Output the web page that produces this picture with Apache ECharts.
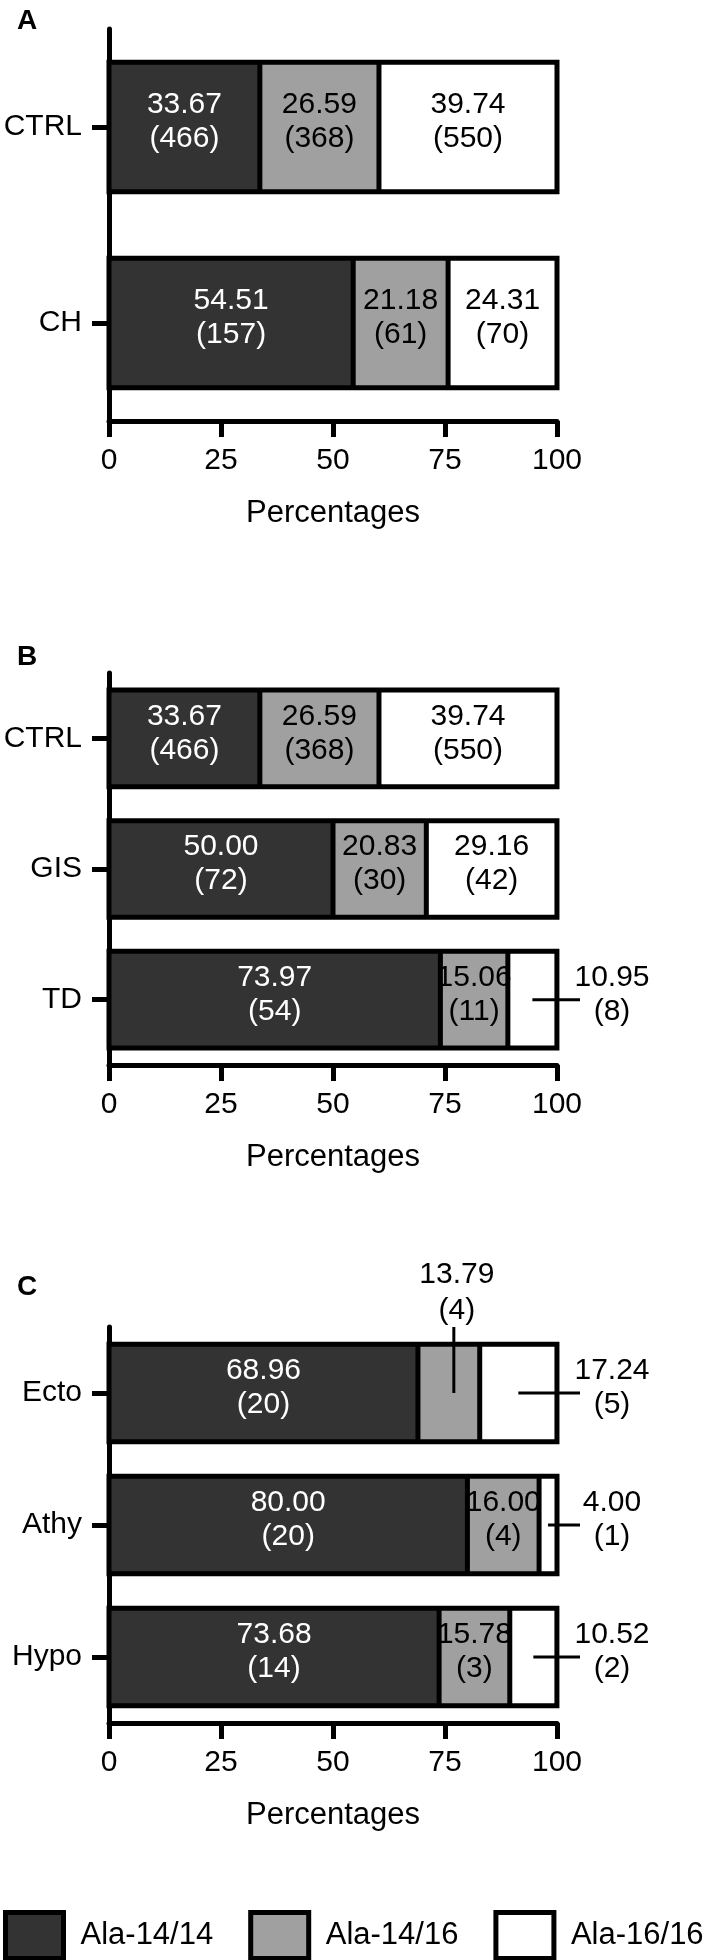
<!DOCTYPE html>
<html style="height: 100%">
<head>
    <meta charset="utf-8">
</head>
<body style="height: 100%; margin: 0; background: #fff">
<div id="container" style="width: 709px; height: 1960px"></div>
<script type="text/javascript" src="https://cdn.jsdelivr.net/npm/echarts@6/dist/echarts.min.js"></script>
<script type="text/javascript">
  // genotype classes
  const names = ['Ala-14/14', 'Ala-14/16', 'Ala-16/16'];
  const xTicks = [0, 25, 50, 75, 100];

  // A
  const catsA = ['CTRL', 'CH'];
  const pctA = [[33.67, 26.59, 39.74], [54.51, 21.18, 24.31]];
  const cntA = [[466, 368, 550], [157, 61, 70]];
  // B
  const catsB = ['CTRL', 'GIS', 'TD'];
  const pctB = [[33.67, 26.59, 39.74], [50.00, 20.83, 29.16], [73.97, 15.06, 10.95]];
  const cntB = [[466, 368, 550], [72, 30, 42], [54, 11, 8]];
  // C
  const catsC = ['Ecto', 'Athy', 'Hypo'];
  const pctC = [[68.96, 13.79, 17.24], [80.00, 16.00, 4.00], [73.68, 15.78, 10.52]];
  const cntC = [[20, 4, 5], [20, 4, 1], [14, 3, 2]];

  const fills = ['#333333', '#a0a0a0', '#ffffff'];
  const inkColors = ['#ffffff', '#000000', '#000000'];
  const font = 'Liberation Sans';

  const panels = [
    {letter: 'A', cats: catsA, pct: pctA, cnt: cntA, top: 29, height: 392, bar: 0.66, right: [], above: []},
    {letter: 'B', cats: catsB, pct: pctB, cnt: cntB, top: 673, height: 392, bar: 0.74, right: ['TD'], above: []},
    {letter: 'C', cats: catsC, pct: pctC, cnt: cntC, top: 1327, height: 396, bar: 0.74, right: ['Ecto', 'Athy', 'Hypo'], above: ['Ecto']}
  ];
  const letterTop = [2, 638, 1268];

  function lbl(v, n) {
    return v.toFixed(2) + '\n(' + n + ')';
  }

  var dom = document.getElementById("container");
  var myChart = echarts.init(dom);
  var option;

  const grid = [], xAxis = [], yAxis = [], series = [], title = [];

  panels.forEach(function (p, gi) {
    title.push({
      text: p.letter, left: 12, top: letterTop[gi],
      textStyle: {fontSize: 28, fontWeight: 'bold', color: '#000', fontFamily: font}
    });
    grid.push({left: 109, right: 152, top: p.top, height: p.height});
    xAxis.push({
      type: 'value', gridIndex: gi, min: xTicks[0], max: xTicks[xTicks.length - 1], interval: 25,
      name: 'Percentages', nameLocation: 'middle', nameGap: 77,
      nameTextStyle: {fontSize: 31, color: '#000', fontFamily: font},
      axisLine: {show: true, lineStyle: {color: '#000', width: 5, cap: 'round'}},
      axisTick: {show: true, length: 16, lineStyle: {color: '#000', width: 5}},
      axisLabel: {fontSize: 30, color: '#000', margin: 25, fontFamily: font},
      splitLine: {show: false}
    });
    yAxis.push({
      type: 'category', gridIndex: gi, inverse: true, data: p.cats,
      axisLine: {show: true, lineStyle: {color: '#000', width: 5}},
      axisTick: {show: true, alignWithLabel: true, length: 17, lineStyle: {color: '#000', width: 5}},
      axisLabel: {fontSize: 30, color: '#000', margin: 27, fontFamily: font}
    });

    names.forEach(function (nm, si) {
      series.push({
        type: 'bar', name: nm, stack: 'g' + gi, xAxisIndex: gi, yAxisIndex: gi,
        barWidth: (p.bar * 100) + '%',
        itemStyle: {color: fills[si], borderWidth: 0},
        label: {
          show: true, position: 'inside', color: inkColors[si], fontSize: 30, lineHeight: 34,
          fontFamily: font, offset: [0, -5],
          formatter: function (params) {
            return lbl(params.value, p.cnt[params.dataIndex][si]);
          }
        },
        data: p.cats.map(function (c, ci) {
          const hide = (si === 2 && p.right.indexOf(c) > -1) || (si === 1 && p.above.indexOf(c) > -1);
          return {value: p.pct[ci][si], label: {show: !hide}};
        })
      });
    });

    // black outline and dividers of each stacked bar
    series.push({
      type: 'custom', xAxisIndex: gi, yAxisIndex: gi, z: 3, clip: false,
      encode: {x: 2, y: 3},
      data: p.pct.map(function (r, ci) { return [r[0], r[0] + r[1], r[0] + r[1] + r[2], ci]; }),
      renderItem: function (params, api) {
        const ci = api.value(3);
        const h = api.size([0, 1])[1] * p.bar;
        const s = api.coord([0, ci]);
        const d1 = api.coord([api.value(0), ci]);
        const d2 = api.coord([api.value(1), ci]);
        const e = api.coord([api.value(2), ci]);
        const y0 = s[1] - h / 2, y1 = s[1] + h / 2;
        const st = {stroke: '#000', lineWidth: 5, fill: null};
        return {
          type: 'group',
          children: [
            {type: 'rect', shape: {x: s[0], y: y0, width: e[0] - s[0], height: h}, style: st},
            {type: 'line', shape: {x1: d1[0], y1: y0, x2: d1[0], y2: y1}, style: st},
            {type: 'line', shape: {x1: d2[0], y1: y0, x2: d2[0], y2: y1}, style: st}
          ]
        };
      }
    });

    // labels pulled out to the right of the bar
    if (p.right.length) {
      const idx = p.right.map(function (c) { return p.cats.indexOf(c); });
      series.push({
        type: 'custom', xAxisIndex: gi, yAxisIndex: gi, z: 10, clip: false,
        encode: {x: 0, y: 2},
        data: idx.map(function (ci) { return [p.pct[ci][0] + p.pct[ci][1], p.pct[ci][2], ci]; }),
        renderItem: function (params, api) {
          const ci = idx[params.dataIndex];
          const a = api.coord([api.value(0) + api.value(1) / 2, api.value(2)]);
          const end = api.coord([100, api.value(2)]);
          return {
            type: 'group',
            children: [
              {type: 'line', shape: {x1: a[0], y1: a[1], x2: end[0] + 23, y2: a[1]},
                style: {stroke: '#000', lineWidth: 3}},
              {type: 'text', style: {
                x: end[0] + 55, y: a[1] - 5, text: lbl(p.pct[ci][2], p.cnt[ci][2]),
                align: 'center', verticalAlign: 'middle', fontSize: 30, lineHeight: 34,
                fontFamily: font, fill: '#000'
              }}
            ]
          };
        }
      });
    }

    // labels pulled out above the bar
    if (p.above.length) {
      const idx2 = p.above.map(function (c) { return p.cats.indexOf(c); });
      series.push({
        type: 'custom', xAxisIndex: gi, yAxisIndex: gi, z: 10, clip: false,
        encode: {x: 0, y: 2},
        data: idx2.map(function (ci) { return [p.pct[ci][0], p.pct[ci][1], ci]; }),
        renderItem: function (params, api) {
          const ci = idx2[params.dataIndex];
          const a = api.coord([api.value(0) + api.value(1) / 2, api.value(2)]);
          const band = api.size([0, 1])[1];
          const top = a[1] - band * 0.5;
          return {
            type: 'group',
            children: [
              {type: 'line', shape: {x1: a[0] + 5, y1: a[1], x2: a[0] + 5, y2: top},
                style: {stroke: '#000', lineWidth: 3}},
              {type: 'text', style: {
                x: a[0] + 8, y: top + 2, text: lbl(p.pct[ci][1], p.cnt[ci][1]),
                align: 'center', verticalAlign: 'bottom', fontSize: 30, lineHeight: 36,
                fontFamily: font, fill: '#000'
              }}
            ]
          };
        }
      });
    }
  });

  option = {
    animation: false,
    backgroundColor: '#fff',
    title: title,
    legend: {
      data: names, left: 3, top: 1910, width: 706, padding: 0, itemGap: 35,
      itemWidth: 58, itemHeight: 46, icon: 'rect',
      itemStyle: {borderColor: '#000', borderWidth: 5},
      textStyle: {fontSize: 31, color: '#000', fontFamily: font, padding: [0, 0, 0, 12]}
    },
    grid: grid,
    xAxis: xAxis,
    yAxis: yAxis,
    series: series
  };

  if (option && typeof option === 'object') {
    myChart.setOption(option);
  }
</script>
</body>
</html>
